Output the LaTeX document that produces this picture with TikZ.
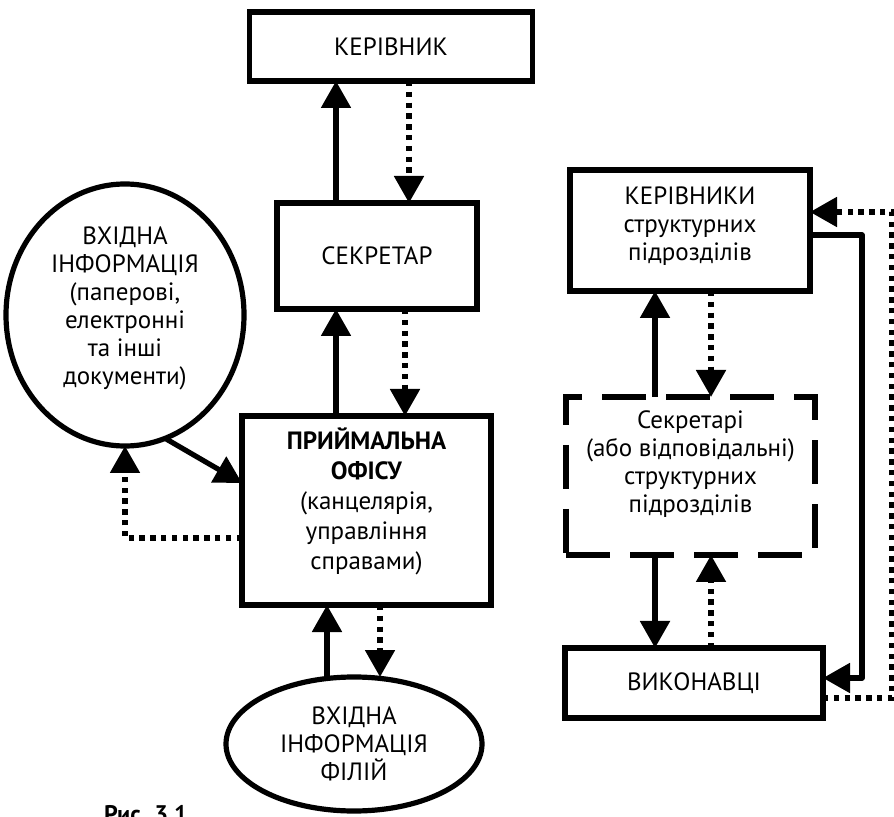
\documentclass[tikz,border=0pt]{standalone}
\usepackage{fontspec}
\setmainfont{PT Sans}
\usetikzlibrary{arrows.meta,shapes.geometric}
\begin{document}
\begin{tikzpicture}[x=0.5pt,y=-0.5pt,
  every node/.style={font=\fontsize{12.5}{14}\selectfont, align=center, inner sep=0pt, outer sep=0pt},
  box/.style={draw, line width=2.6pt, rectangle},
  oval/.style={draw, line width=2.6pt, ellipse},
  dbox/.style={draw, line width=2.6pt, rectangle, dash pattern=on 22pt off 10pt},
  conn/.style={line width=2.6pt, -{Triangle[length=13.5pt,width=14.5pt]}},
  solidarr/.style={conn},
  dotarr/.style={conn, dash pattern=on 2.7pt off 2.7pt},
]
\useasboundingbox (0,0) rectangle (894,817);

% nodes
\node[box, minimum width=141.5pt, minimum height=34.5pt] (ker) at (391,46.5) {КЕРІВНИК};
\node[box, minimum width=100pt, minimum height=53pt] (sek) at (377,256) {СЕКРЕТАР};
\node[box, minimum width=124.5pt, minimum height=94.5pt, font=\fontsize{12.5}{15}\selectfont] (pr) at (366.5,510.5)
  {\textbf{ПРИЙМАЛЬНА}\\\textbf{ОФІСУ}\\(канцелярія,\\управління\\справами)\rule[-11.5pt]{0pt}{0pt}};
\node[oval, minimum width=119pt, minimum height=131pt] (vin) at (125,315)
  {ВХІДНА\\ІНФОРМАЦІЯ\\(паперові,\\електронні\\та інші\\документи)\rule[-9pt]{0pt}{0pt}};
\node[oval, minimum width=128pt, minimum height=67pt] (vf) at (354,744)
  {ВХІДНА\\ІНФОРМАЦІЯ\\ФІЛІЙ};
\node[box, minimum width=120pt, minimum height=60.5pt] (kers) at (690,230.5)
  {КЕРІВНИКИ\\структурних\\підрозділів\rule[-7pt]{0pt}{0pt}};
\node[dbox, minimum width=124.5pt, minimum height=79pt] (dsh) at (690.5,476)
  {Секретарі\\(або відповідальні)\\структурних\\підрозділів\rule[-14pt]{0pt}{0pt}};
\node[box, minimum width=129pt, minimum height=35pt] (vyk) at (694,683) {ВИКОНАВЦІ};
\node[anchor=base west, font=\bfseries\fontsize{12}{14}\selectfont] (cap) at (104,822) {Рис. 3.1};

% helper coordinates
\coordinate (cA) at (336,0);
\coordinate (cB) at (409,0);
\coordinate (cC) at (405,0);
\coordinate (cD) at (327,0);
\coordinate (cE) at (380,0);
\coordinate (cF) at (655,0);
\coordinate (cG) at (711,0);
\coordinate (yT) at (0,483);
\coordinate (yL) at (0,538);
\coordinate (yR1) at (0,235);
\coordinate (yR2) at (0,678);
\coordinate (yR3) at (0,698);
\coordinate (yR4) at (0,212);
\coordinate (xS) at (862,0);
\coordinate (xD) at (892,0);

% left column connectors
\draw[solidarr] (sek.north -| cA) -- (ker.south -| cA);
\draw[dotarr] (ker.south -| cB) -- (sek.north -| cB);
\draw[solidarr] (pr.north -| cA) -- (sek.south -| cA);
\draw[dotarr] (sek.south -| cC) -- (pr.north -| cC);
\draw[solidarr] (vin.-72) -- (pr.west |- yT);
\draw[dotarr] (pr.west |- yL) -| (vin.south);
\draw[solidarr] (vf.north -| cD) -- (pr.south -| cD);
\draw[dotarr] (pr.south -| cE) -- (vf.north -| cE);

% right column connectors
\draw[solidarr] (dsh.north -| cF) -- (kers.south -| cF);
\draw[dotarr] (kers.south -| cG) -- (dsh.north -| cG);
\draw[solidarr] (dsh.south -| cF) -- (vyk.north -| cF);
\draw[dotarr] (vyk.north -| cG) -- (dsh.south -| cG);
\draw[solidarr, line join=round] (kers.east |- yR1) -| (xS |- yR2) -- (vyk.east |- yR2);
\draw[dotarr] (vyk.east |- yR3) -| (xD |- yR4) -- (kers.east |- yR4);
\end{tikzpicture}
\end{document}
